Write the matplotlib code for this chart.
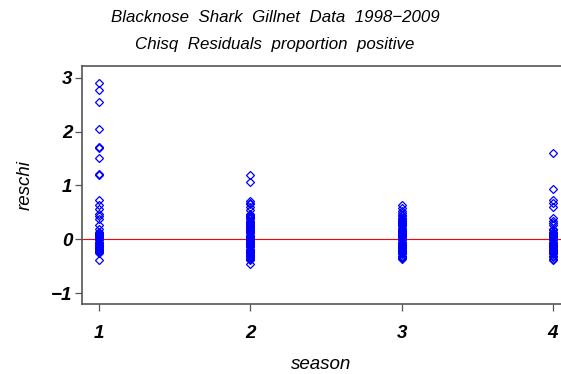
import matplotlib
matplotlib.use('Agg')
import matplotlib.pyplot as plt
import numpy as np

# chi-square residuals by season
res_s1 = [2.90, 2.77, 2.55, 2.04, 1.72, 1.69, 1.51, 1.22, 1.19, 0.73, 0.63, 0.56,
          0.48, 0.43, 0.37, 0.27, 0.20, 0.14, 0.12, 0.10, 0.08, 0.06, 0.04, 0.02,
          0.00, -0.02, -0.04, -0.06, -0.08, -0.10, -0.12, -0.14, -0.16, -0.18,
          -0.20, -0.22, -0.24, -0.26, -0.39]
res_s2 = [1.20, 1.06, 0.71, 0.68, 0.66, 0.60, 0.54, 0.48, 0.45, 0.43, 0.41, 0.39,
          0.37, 0.35, 0.33, 0.31, 0.29, 0.27, 0.25, 0.23, 0.21, 0.19, 0.17, 0.15,
          0.13, 0.11, 0.09, 0.07, 0.05, 0.03, 0.01, -0.01, -0.03, -0.05, -0.07,
          -0.09, -0.11, -0.13, -0.15, -0.17, -0.19, -0.21, -0.23, -0.25, -0.27,
          -0.29, -0.31, -0.33, -0.35, -0.37, -0.39, -0.46]
res_s3 = [0.63, 0.58, 0.53, 0.49, 0.46, 0.43, 0.40, 0.38, 0.36, 0.34, 0.32, 0.30,
          0.28, 0.26, 0.24, 0.22, 0.20, 0.18, 0.16, 0.14, 0.12, 0.10, 0.08, 0.06,
          0.04, 0.02, 0.00, -0.02, -0.04, -0.06, -0.08, -0.10, -0.12, -0.14, -0.16,
          -0.18, -0.20, -0.22, -0.24, -0.26, -0.28, -0.30, -0.32, -0.34, -0.36]
res_s4 = [1.61, 0.93, 0.73, 0.68, 0.61, 0.40, 0.35, 0.30, 0.26, 0.20, 0.17, 0.14,
          0.12, 0.10, 0.08, 0.06, 0.04, 0.02, 0.00, -0.02, -0.04, -0.06, -0.08,
          -0.10, -0.12, -0.14, -0.16, -0.18, -0.20, -0.22, -0.24, -0.26, -0.28,
          -0.30, -0.33, -0.36, -0.39]
seasons = [1, 2, 3, 4]
residuals = [res_s1, res_s2, res_s3, res_s4]

fig = plt.figure(figsize=(5.61, 3.74), dpi=100)
ax = fig.add_axes([0.146, 0.187, 0.854, 0.637])

for s, r in zip(seasons, residuals):
    ax.plot(np.full(len(r), s), r, ls='none', marker='D', ms=4.3, mfc='none',
            mec='blue', mew=0.9)
ax.axhline(0, color='red', lw=0.8, zorder=0)

ax.set_xlim(0.8876, 4.053)
ax.set_ylim(-1.2, 3.22)
ax.set_xticks(seasons)
ax.set_yticks([-1, 0, 1, 2, 3])
ax.set_yticklabels(['\u22121', '0', '1', '2', '3'])

tfont = dict(family='Liberation Sans', style='italic', weight='bold', size=13.5)
for lab in ax.get_xticklabels() + ax.get_yticklabels():
    lab.set_fontproperties(matplotlib.font_manager.FontProperties(**tfont))

for sp in ('left', 'bottom', 'top'):
    ax.spines[sp].set_color('#555555')
    ax.spines[sp].set_linewidth(1.2)
ax.spines['right'].set_visible(False)
ax.tick_params(axis='x', direction='out', length=5, width=0.9, color='#555555', pad=10)
ax.tick_params(axis='y', direction='out', length=5, width=0.9, color='#555555', pad=2)

lfont = dict(family='Liberation Sans', style='italic', size=13.5)
ax.set_xlabel('season', labelpad=10, **lfont)
ax.set_ylabel('reschi', labelpad=12, **lfont)

fig.text(0.49, 0.952, 'Blacknose  Shark  Gillnet  Data  1998\u22122009',
         ha='center', va='center', family='Liberation Sans', style='italic', size=12.2)
fig.text(0.49, 0.880, 'Chisq  Residuals  proportion  positive',
         ha='center', va='center', family='Liberation Sans', style='italic', size=12.2)

fig.savefig('out.png', dpi=100)
